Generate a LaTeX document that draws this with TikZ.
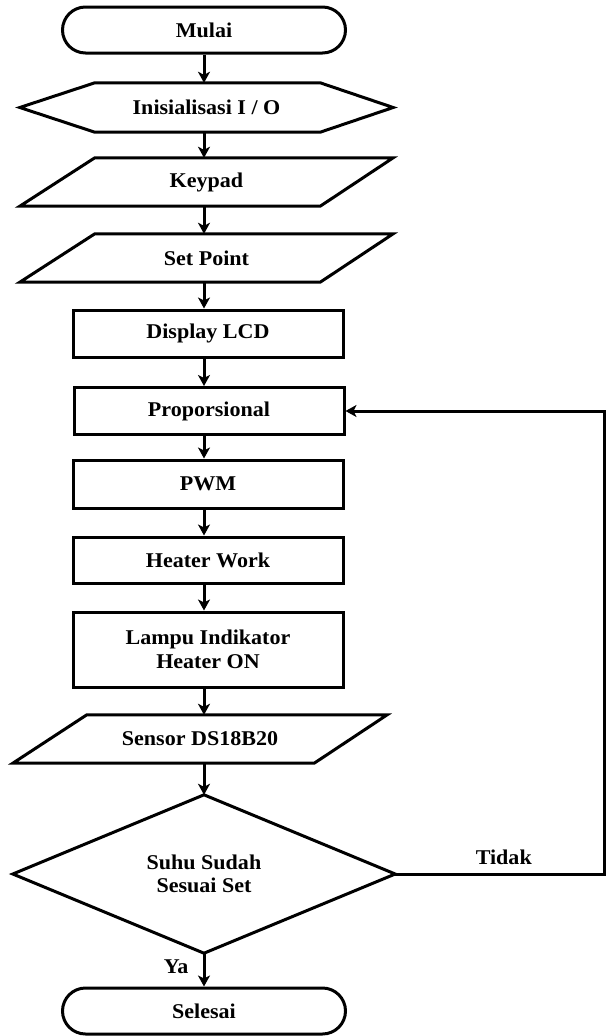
\documentclass[tikz,border=0pt]{standalone}
\usepackage{fontspec}
\setmainfont[FakeStretch=1.05]{Liberation Serif}
\usetikzlibrary{arrows.meta}
\begin{document}
\begin{tikzpicture}[x=1pt,y=-1pt,
  lw/.style={line width=3pt},
  arr/.style={lw,-{Stealth[length=11pt,width=12pt,inset=3pt]}},
  txt/.style={font=\fontsize{21}{23.5}\selectfont\bfseries,align=center,inner sep=0pt},
  box/.style={txt,draw,lw,rectangle,minimum width=270pt,minimum height=#1},
  term/.style={txt,draw,lw,rectangle,rounded corners=23pt,minimum width=283pt,minimum height=46pt},
  ghost/.style={txt,minimum width=#1},
]
\useasboundingbox (0,0) rectangle (606,1036);
\fill[white] (0,0) rectangle (606,1036);

% nodes
\node[term] (mu) at (204,30) {Mulai};
\node[ghost=373pt,minimum height=49pt] (io) at (206.5,107.5) {Inisialisasi I / O};
\node[ghost=373pt,minimum height=48pt] (kp) at (206.5,182) {Keypad};
\node[ghost=373pt,minimum height=48pt] (sp) at (206.5,258) {Set Point};
\node[box=47pt] (lcd) at (208,333.5) {Display LCD};
\node[box=47pt] (pr) at (209,411) {Proporsional};
\node[box=48pt] (pwm) at (208,484) {PWM};
\node[box=46pt] (hw) at (208,560) {Heater Work};
\node[box=75pt] (li) at (208,649.5) {Lampu Indikator\\Heater ON};
\node[ghost=374pt,minimum height=48pt] (se) at (200,739) {Sensor DS18B20};
\node[ghost=382pt,minimum height=158pt] (dm) at (204,874) {Suhu Sudah\\Sesuai Set};
\node[term] (sl) at (204,1011) {Selesai};
\coordinate (rx) at (604,0);

% shapes drawn around ghost nodes
\draw[lw,line join=miter] (io.west) -- ([xshift=75pt]io.north west) -- ([xshift=-73pt]io.north east)
  -- (io.east) -- ([xshift=-73pt]io.south east) -- ([xshift=75pt]io.south west) -- cycle;
\draw[lw] ([xshift=75pt]kp.north west) -- (kp.north east) -- ([xshift=-73pt]kp.south east)
  -- (kp.south west) -- cycle;
\draw[lw] ([xshift=75pt]sp.north west) -- (sp.north east) -- ([xshift=-73pt]sp.south east)
  -- (sp.south west) -- cycle;
\draw[lw] ([xshift=74pt]se.north west) -- (se.north east) -- ([xshift=-73pt]se.south east)
  -- (se.south west) -- cycle;
\draw[lw,line join=miter] (dm.north) -- (dm.east) -- (dm.south) -- (dm.west) -- cycle;

% connectors
\draw[arr] (mu.south) -- (mu.south |- io.north);
\draw[arr] (io.south -| mu.south) -- (mu.south |- kp.north);
\draw[arr] (kp.south -| mu.south) -- (mu.south |- sp.north);
\draw[arr] (sp.south -| mu.south) -- (mu.south |- lcd.north);
\draw[arr] (lcd.south -| mu.south) -- (mu.south |- pr.north);
\draw[arr] (pr.south -| mu.south) -- (mu.south |- pwm.north);
\draw[arr] (pwm.south -| mu.south) -- (mu.south |- hw.north);
\draw[arr] (hw.south -| mu.south) -- (mu.south |- li.north);
\draw[arr] (li.south -| mu.south) -- (mu.south |- se.north);
\draw[arr] (se.south -| mu.south) -- (dm.north);
\draw[arr] (dm.south) -- node[txt,left=14pt,pos=0.4] (ya) {Ya} (sl.north);
\draw[arr] (dm.east) -- node[txt,above=8pt,pos=0.52] (td) {Tidak} (dm.east -| rx) |- (pr.east);
\end{tikzpicture}
\end{document}
